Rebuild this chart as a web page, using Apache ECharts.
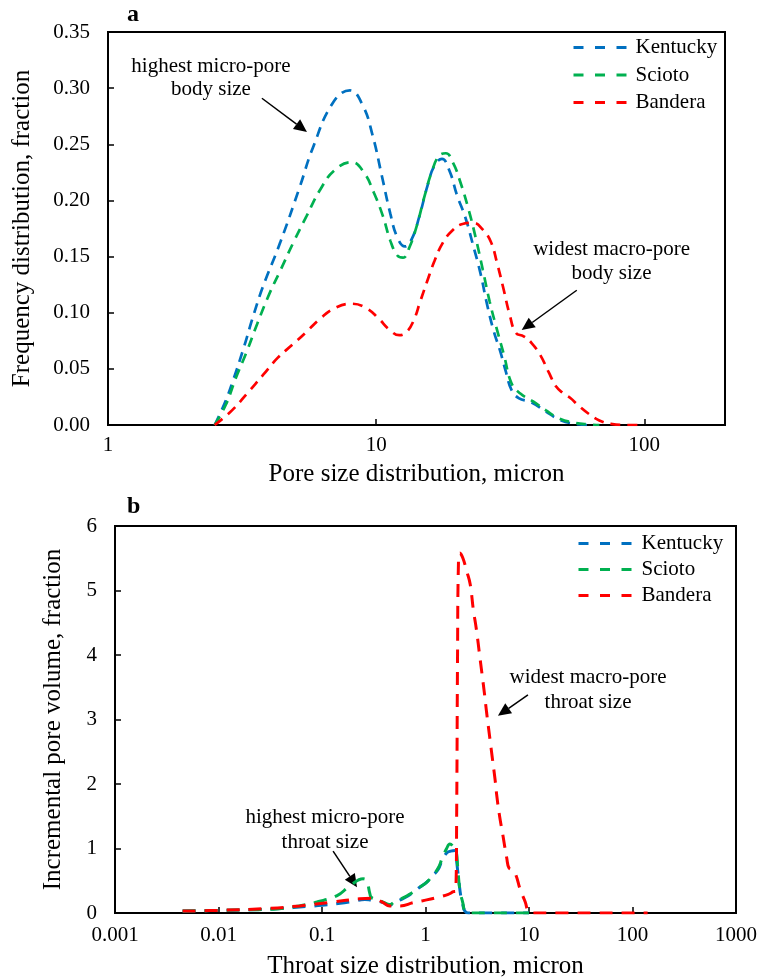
<!DOCTYPE html>
<html><head><meta charset="utf-8">
<script src="https://cdn.jsdelivr.net/npm/echarts@6/dist/echarts.min.js"></script>
<style>html,body{margin:0;padding:0;background:#fff}#c{width:761px;height:980px}</style>
</head><body><div id="c"></div>
<script>
// ---------- data ----------
const seriesNames = ['Kentucky', 'Scioto', 'Bandera'];
const seriesColors = ['#0070C0', '#00B050', '#FF0000'];

// Panel a: pore body size (micron) vs frequency (fraction)
const poreKentucky = [[2.5,0],[2.73,0.02],[2.93,0.04],[3.2,0.068],[3.47,0.096],[3.78,0.123],[4.38,0.162],[5.19,0.212],[5.81,0.247],[6.9,0.287],[7.98,0.298],[8.9,0.285],[9.7,0.258],[10.5,0.222],[11.3,0.188],[12.0,0.167],[12.8,0.159],[13.6,0.166],[14.5,0.186],[15.5,0.212],[16.5,0.231],[17.6,0.237],[18.8,0.226],[20,0.205],[21.5,0.185],[23,0.16],[24.5,0.135],[26,0.106],[27.5,0.083],[29,0.066],[30.5,0.047],[32,0.031],[34,0.024],[38,0.02],[43,0.012],[48,0.005],[55,0.001],[62,0]];
const poreScioto = [[2.5,0],[2.75,0.018],[3.0,0.042],[3.3,0.066],[3.6,0.09],[4.0,0.117],[4.4,0.138],[4.9,0.162],[5.5,0.186],[6.2,0.21],[7.0,0.227],[8.1,0.234],[9.0,0.225],[9.8,0.207],[10.6,0.186],[11.3,0.164],[12.0,0.151],[12.6,0.149],[13.3,0.158],[14.2,0.178],[15.2,0.205],[16.2,0.227],[17.2,0.24],[18.2,0.242],[19.4,0.233],[20.5,0.218],[22,0.194],[23.5,0.167],[25,0.138],[26.5,0.11],[28,0.088],[30,0.062],[32,0.037],[34.5,0.028],[38.5,0.021],[43,0.013],[48,0.006],[55,0.002],[62,0.0005],[68,0]];
const poreBandera = [[2.5,0],[2.9,0.013],[3.3,0.028],[3.8,0.045],[4.3,0.06],[4.9,0.072],[5.5,0.083],[6.2,0.095],[7.0,0.104],[8.1,0.108],[9.2,0.104],[10.2,0.095],[11.2,0.085],[12.2,0.08],[13.0,0.083],[13.8,0.093],[14.6,0.11],[15.5,0.128],[16.5,0.146],[17.7,0.162],[19.2,0.173],[21,0.179],[23,0.18],[25,0.174],[26.8,0.163],[28.2,0.145],[29.8,0.122],[31.5,0.098],[33.2,0.082],[35.5,0.079],[38,0.073],[41,0.062],[44,0.047],[47,0.034],[50,0.028],[53,0.024],[57,0.017],[62,0.01],[68,0.004],[75,0.001],[85,0],[100,0]];

// Panel b: throat size (micron) vs incremental pore volume (fraction)
const throatKentucky = [[0.0045,0.03],[0.01,0.04],[0.02,0.05],[0.04,0.07],[0.07,0.1],[0.1,0.12],[0.15,0.15],[0.2,0.18],[0.26,0.21],[0.3,0.2],[0.34,0.19],[0.39,0.16],[0.45,0.12],[0.5,0.16],[0.6,0.22],[0.7,0.28],[0.88,0.4],[1.03,0.48],[1.16,0.57],[1.33,0.68],[1.45,0.82],[1.6,0.93],[1.75,0.96],[1.94,0.97],[2.0,0.8],[2.1,0.5],[2.2,0.25],[2.3,0.12],[2.4,0.03],[2.6,0],[10,0]];
const throatScioto = [[0.0045,0.03],[0.01,0.04],[0.02,0.05],[0.034,0.06],[0.06,0.11],[0.089,0.17],[0.14,0.27],[0.186,0.42],[0.25,0.53],[0.27,0.5],[0.29,0.3],[0.3,0.24],[0.34,0.21],[0.39,0.17],[0.45,0.13],[0.5,0.17],[0.6,0.23],[0.7,0.29],[0.88,0.4],[1.03,0.48],[1.16,0.57],[1.33,0.7],[1.45,0.85],[1.6,1.0],[1.72,1.07],[1.85,1.03],[1.98,0.95],[2.05,0.7],[2.15,0.35],[2.3,0.15],[2.4,0.03],[2.6,0],[10,0]];
const throatBandera = [[0.0045,0.03],[0.0096,0.04],[0.029,0.07],[0.061,0.11],[0.127,0.17],[0.23,0.22],[0.3,0.23],[0.35,0.2],[0.39,0.16],[0.45,0.11],[0.57,0.11],[0.76,0.16],[0.94,0.19],[1.29,0.24],[1.66,0.29],[1.86,0.33],[1.96,0.34],[2.0,1.5],[2.04,4.0],[2.08,5.4],[2.15,5.58],[2.3,5.5],[2.5,5.3],[2.7,5.1],[2.9,4.7],[3.1,4.4],[3.35,3.97],[3.7,3.42],[3.9,3.1],[4.2,2.69],[4.4,2.43],[4.7,2.07],[4.9,1.8],[5.2,1.5],[5.6,1.2],[6.1,0.85],[6.4,0.7],[7.0,0.66],[7.5,0.58],[8.2,0.37],[9.2,0.17],[9.8,0.03],[10.5,0],[140,0]];

const panelLabels = ['a', 'b'];
const xTitles = ['Pore size distribution, micron', 'Throat size distribution, micron'];
const yTitles = ['Frequency distribution, fraction', 'Incremental pore volume, fraction'];

// annotations (text lines + arrow in data coordinates)
const annotations = [
  {grid: 0, lines: ['highest micro-pore', 'body size'], at: [2.42, 0.319], dy: 23, from: [3.75, 0.291], to: [5.52, 0.261]},
  {grid: 0, lines: ['widest macro-pore', 'body size'], at: [75.5, 0.156], dy: 24, from: [56, 0.120], to: [34.9, 0.0845]},
  {grid: 1, lines: ['widest macro-pore', 'throat size'], at: [37.2, 3.65], dy: 25, from: [9.77, 3.38], to: [5.01, 3.06]},
  {grid: 1, lines: ['highest micro-pore', 'throat size'], at: [0.107, 1.48], dy: 25, from: [0.128, 0.96], to: [0.218, 0.40]}
];

// ---------- chart ----------
const FONT = "'Liberation Serif', 'Times New Roman', serif";
const chart = echarts.init(document.getElementById('c'), null, {renderer: 'canvas'});

function mkSeries(name, data, idx, ci) {
  return {
    name: name, type: 'line', data: data, xAxisIndex: idx, yAxisIndex: idx,
    symbol: 'none', showSymbol: false, smooth: 0.45,
    lineStyle: idx === 0 ? {color: seriesColors[ci], width: 2.7, type: [10, 7]}
                         : {color: seriesColors[ci], width: 3, type: [13, 9]},
    itemStyle: {color: seriesColors[ci]},
    emphasis: {disabled: true}, animation: false
  };
}

const axisLineStyle = {show: true, lineStyle: {color: '#000', width: 2}};
const labelStyle = {color: '#000', fontFamily: FONT, fontSize: 21};
const nameStyle = {color: '#000', fontFamily: FONT, fontSize: 25};
const tickStyle = {show: true, inside: true, length: 6, lineStyle: {color: '#000', width: 1.5}};

function mkLegend(left, top, gap, pad) {
  return {orient: 'vertical', left: left, top: top, padding: 0, itemWidth: 56, itemHeight: 12, itemGap: gap,
    data: seriesNames, selectedMode: false,
    itemStyle: {opacity: 0},
    lineStyle: {width: 3, type: [10, 11.5]},
    textStyle: {color: '#000', fontFamily: FONT, fontSize: 21, padding: [0, 0, 0, pad]}};
}

const option = {
  animation: false,
  backgroundColor: '#fff',
  grid: [
    {left: 108, top: 32, right: 36, bottom: 555, show: true, borderColor: '#000', borderWidth: 2, containLabel: false},
    {left: 115, top: 526, right: 25, bottom: 66, show: true, borderColor: '#000', borderWidth: 2, containLabel: false}
  ],
  xAxis: [
    {type: 'log', logBase: 10, min: 1, max: 200, gridIndex: 0,
     axisLine: axisLineStyle, axisTick: tickStyle, minorTick: {show: false}, splitLine: {show: false},
     axisLabel: Object.assign({margin: 10, showMaxLabel: false}, labelStyle),
     name: xTitles[0], nameLocation: 'middle', nameGap: 37, nameTextStyle: nameStyle},
    {type: 'log', logBase: 10, min: 0.001, max: 1000, gridIndex: 1,
     axisLine: axisLineStyle, axisTick: tickStyle, splitLine: {show: false},
     axisLabel: Object.assign({margin: 12, formatter: v => String(+v.toPrecision(3))}, labelStyle),
     name: xTitles[1], nameLocation: 'middle', nameGap: 41, nameTextStyle: nameStyle}
  ],
  yAxis: [
    {type: 'value', min: 0, max: 0.35, interval: 0.05, gridIndex: 0,
     axisLine: axisLineStyle, axisTick: tickStyle, splitLine: {show: false},
     axisLabel: Object.assign({margin: 18, formatter: v => v.toFixed(2)}, labelStyle),
     name: yTitles[0], nameLocation: 'middle', nameGap: 73, nameTextStyle: nameStyle},
    {type: 'value', min: 0, max: 6, interval: 1, gridIndex: 1,
     axisLine: axisLineStyle, axisTick: tickStyle, splitLine: {show: false},
     axisLabel: Object.assign({margin: 18}, labelStyle),
     name: yTitles[1], nameLocation: 'middle', nameGap: 49, nameTextStyle: nameStyle}
  ],
  legend: [mkLegend(572, 37, 6.5, 1), mkLegend(577, 533, 5, 2)],
  series: [
    mkSeries(seriesNames[0], poreKentucky, 0, 0),
    mkSeries(seriesNames[1], poreScioto, 0, 1),
    mkSeries(seriesNames[2], poreBandera, 0, 2),
    mkSeries(seriesNames[0], throatKentucky, 1, 0),
    mkSeries(seriesNames[1], throatScioto, 1, 1),
    mkSeries(seriesNames[2], throatBandera, 1, 2)
  ]
};
chart.setOption(option);

// annotations, computed from data coordinates
const graphics = [];
panelLabels.forEach((t, i) => {
  graphics.push({type: 'text', left: 127, top: i === 0 ? 3 : 495,
    style: {text: t, font: 'bold 24px ' + FONT, fill: '#000'}});
});
annotations.forEach(a => {
  const p = chart.convertToPixel({gridIndex: a.grid}, a.at);
  a.lines.forEach((ln, k) => {
    graphics.push({type: 'text', x: p[0], y: p[1] + k * a.dy,
      style: {text: ln, font: '21px ' + FONT, fill: '#000', textAlign: 'center', textVerticalAlign: 'middle'}});
  });
  const s = chart.convertToPixel({gridIndex: a.grid}, a.from);
  const e = chart.convertToPixel({gridIndex: a.grid}, a.to);
  const dx = e[0] - s[0], dy = e[1] - s[1];
  const L = Math.sqrt(dx * dx + dy * dy);
  const ux = dx / L, uy = dy / L;
  const hl = 13, hw = 6;
  const bx = e[0] - ux * hl, by = e[1] - uy * hl;
  graphics.push({type: 'line', shape: {x1: s[0], y1: s[1], x2: bx, y2: by},
    style: {stroke: '#000', lineWidth: 1.5}});
  graphics.push({type: 'polygon', shape: {points: [[e[0], e[1]], [bx - uy * hw, by + ux * hw], [bx + uy * hw, by - ux * hw]]},
    style: {fill: '#000'}});
});
chart.setOption({graphic: graphics});
</script>
</body></html>
